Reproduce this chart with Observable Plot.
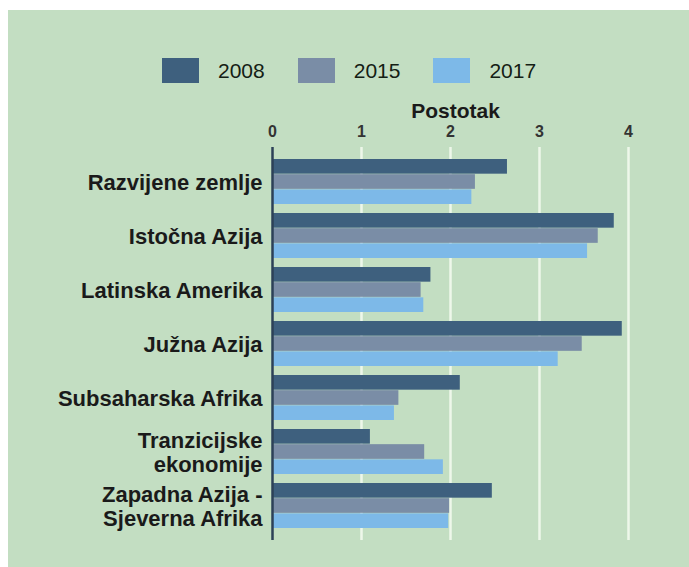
<!DOCTYPE html>
<html>
<head>
<meta charset="utf-8">
<script src="https://cdn.jsdelivr.net/npm/d3@7"></script>
<script src="https://cdn.jsdelivr.net/npm/@observablehq/plot@0.6"></script>
<style>
  html, body { margin: 0; padding: 0; background: #ffffff; width: 689px; height: 567px; overflow: hidden; }
  #panel { position: absolute; left: 8px; top: 10px; width: 681px; height: 557px; background: #c3dec2; }
  #legend { position: absolute; left: 162px; top: 58px; display: flex; align-items: center; gap: 0; font-family: "Liberation Sans", Arial, sans-serif; }
  .item { display: flex; align-items: center; margin-right: 33px; }
  .sw { width: 37px; height: 25px; margin-right: 19px; }
  .lab { font-size: 21px; color: #142014; line-height: 25px; }
  #chart { position: absolute; left: 8px; top: 10px; }
</style>
</head>
<body>
<div id="panel"></div>
<div id="chart"></div>
<div id="legend"></div>
<script>
const regions = [
  "Razvijene zemlje",
  "Istočna Azija",
  "Latinska Amerika",
  "Južna Azija",
  "Subsaharska Afrika",
  "Tranzicijske ekonomije",
  "Zapadna Azija - Sjeverna Afrika"
];
const tickLabels = [
  "Razvijene zemlje",
  "Istočna Azija",
  "Latinska Amerika",
  "Južna Azija",
  "Subsaharska Afrika",
  "Tranzicijske\nekonomije",
  "Zapadna Azija -\nSjeverna Afrika"
];
const years = ["2008", "2015", "2017"];
const values2008 = [2.64, 3.84, 1.78, 3.93, 2.11, 1.10, 2.47];
const values2015 = [2.28, 3.66, 1.67, 3.48, 1.42, 1.71, 1.99];
const values2017 = [2.24, 3.54, 1.70, 3.21, 1.37, 1.92, 1.98];
const xTicks = [0, 1, 2, 3, 4];
const colors = ["#3e607e", "#7a8da6", "#7db9e8"];

const series = [values2008, values2015, values2017];
const rows = years.map((yr, i) => regions.map((r, j) => ({region: r, year: yr, value: series[i][j]})));

const W = 681, H = 557;
const mTop = 137, mBottom = 27, mLeft = 264, mRight = 61;
const pad = 0.17;
const n = regions.length;
const step = (H - mTop - mBottom) / (n - pad + 2 * pad);
const bw = step * (1 - pad);
const h = bw / 3;

const font = "Liberation Sans, Arial, sans-serif";

const barMarks = years.map((yr, i) => Plot.barX(rows[i], {
  y: "region",
  x: "value",
  fill: colors[i],
  insetTop: i * h,
  insetBottom: (2 - i) * h
}));

const chart = Plot.plot({
  width: W,
  height: H,
  marginTop: mTop,
  marginBottom: mBottom,
  marginLeft: mLeft,
  marginRight: mRight,
  style: {background: "transparent", fontFamily: font, color: "#1a1a1a"},
  x: {domain: [0, 4], axis: null},
  y: {domain: regions, padding: pad, axis: null},
  marks: [
    Plot.ruleX(xTicks.slice(1), {stroke: "#eef7ea", strokeWidth: 2.5}),
    ...barMarks,
    Plot.ruleX([0], {stroke: "#2c4157", strokeWidth: 2.5}),
    Plot.axisX({
      anchor: "top",
      ticks: xTicks,
      tickSize: 0,
      tickPadding: 11,
      tickFormat: d => String(d),
      fontSize: 16,
      fontWeight: "bold",
      fill: "#333",
      label: null
    }),
    Plot.text(["Postotak"], {
      frameAnchor: "top",
      text: d => d,
      lineAnchor: "bottom",
      dy: -30,
      dx: 5,
      fontSize: 21,
      fontWeight: "bold",
      fill: "#1a1a1a"
    }),
    Plot.axisY({
      tickSize: 0,
      tickPadding: 10,
      fontSize: 22,
      fontWeight: "bold",
      lineHeight: 1.13,
      fill: "#1a1a1a",
      tickFormat: r => tickLabels[regions.indexOf(r)],
      label: null
    })
  ]
});
document.getElementById("chart").appendChild(chart);

const legend = document.getElementById("legend");
years.forEach((yr, i) => {
  const item = document.createElement("div");
  item.className = "item";
  const sw = document.createElement("div");
  sw.className = "sw";
  sw.style.background = colors[i];
  const lab = document.createElement("span");
  lab.className = "lab";
  lab.textContent = yr;
  item.appendChild(sw);
  item.appendChild(lab);
  legend.appendChild(item);
});
</script>
</body>
</html>
